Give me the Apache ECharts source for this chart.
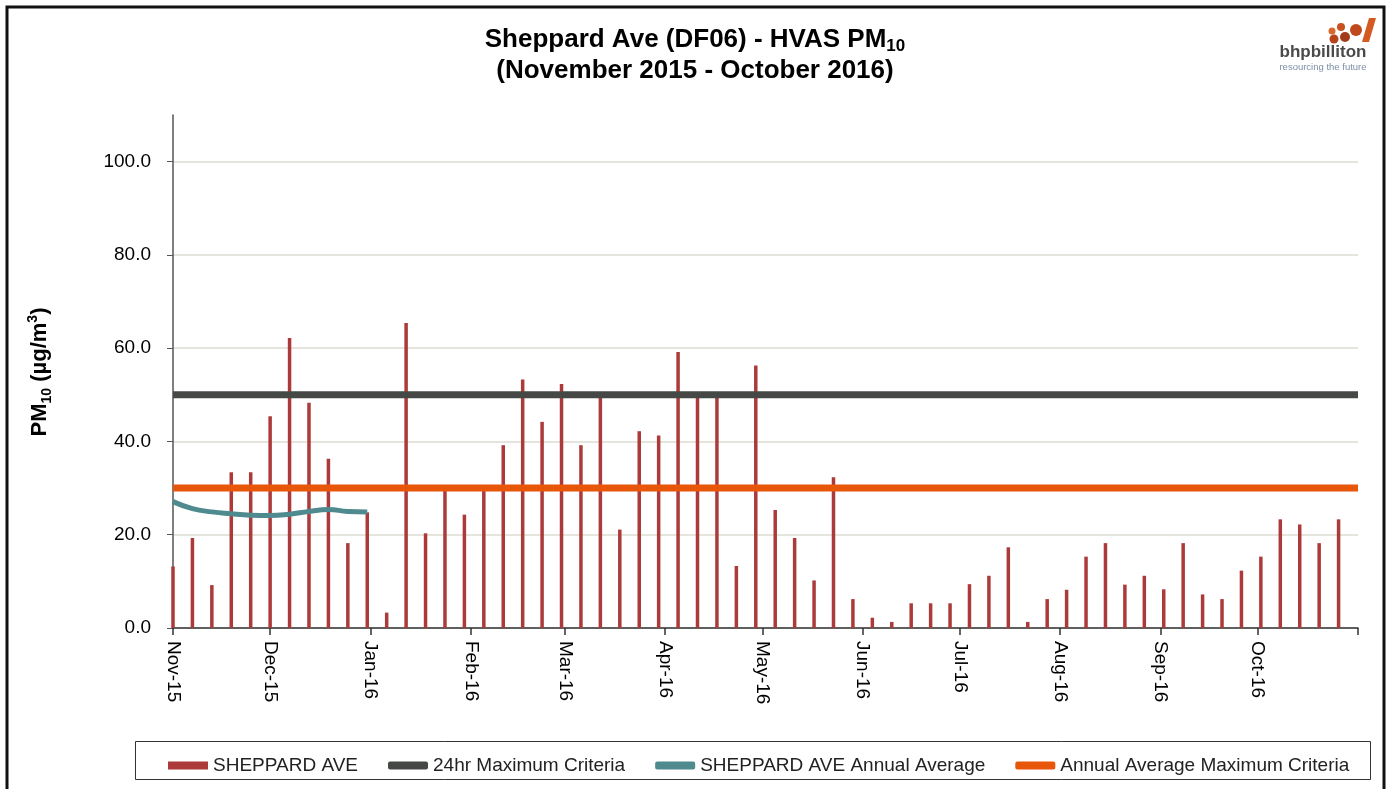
<!DOCTYPE html>
<html>
<head>
<meta charset="utf-8">
<script src="https://cdn.jsdelivr.net/npm/echarts@6/dist/echarts.min.js"></script>
<style>
html,body{margin:0;padding:0;background:#fff;}
#chart{width:1390px;height:789px;}
</style>
</head>
<body>
<div id="chart"></div>
<script>
// ---- data ----
const sampleStart = [2015, 10, 1];   // first HVAS sample: 1 Nov 2015
const sampleStepDays = 6;            // one sample every 6 days
const sheppardAve = [
  13.2, 19.3, 9.2, 33.4, 33.4, 45.4, 62.2, 48.3, 36.3, 18.2, 24.8, 3.3, 65.4, 20.3, 29.5,
  24.3, 29.5, 39.2, 53.3, 44.2, 52.3, 39.2, 49.5, 21.1, 42.2, 41.3, 59.2, 49.5, 49.5, 13.3, 56.3,
  25.3, 19.3, 10.2, 32.3, 6.2, 2.2, 1.3, 5.3, 5.3, 5.3, 9.4, 11.2, 17.3, 1.3, 6.2,
  8.2, 15.3, 18.2, 9.3, 11.2, 8.3, 18.2, 7.2, 6.2, 12.3, 15.3, 23.3, 22.2, 18.2, 23.3
];
const annualAverage = [27.1, 25.6, 24.9, 24.5, 24.2, 24.1, 24.4, 25.0, 25.4, 25.0, 24.9];
const criteria24hr = 50;
const criteriaAnnual = 30;
const monthLabels = ['Nov-15','Dec-15','Jan-16','Feb-16','Mar-16','Apr-16','May-16','Jun-16','Jul-16','Aug-16','Sep-16','Oct-16'];
const yTicks = [0, 20, 40, 60, 80, 100];

// ---- build (x = days since 1 Nov 2015) ----
const DAY = 86400000;
const t0 = Date.UTC(sampleStart[0], sampleStart[1], sampleStart[2]);
const dayOf = (y, m, d) => Math.round((Date.UTC(y, m, d) - t0) / DAY);
const monthStarts = monthLabels.map((_, i) => dayOf(2015, 10 + i, 1));
const xMax = dayOf(2015, 10 + monthLabels.length, 1);
const barData = sheppardAve.map((v, i) => [i * sampleStepDays, v]);
const avgData = annualAverage.map((v, i) => [i * sampleStepDays, v]);

const FONT = '"Liberation Sans", Arial, sans-serif';
const chart = echarts.init(document.getElementById('chart'));
chart.setOption({
  animation: false,
  backgroundColor: '#fff',
  title: {
    left: 'center', top: 19,
    text: '{a|Sheppard Ave (DF06) - HVAS PM}{s|10}\n{a|(November 2015 - October 2016)}',
    textStyle: {
      rich: {
        a: { fontFamily: FONT, fontSize: 26, fontWeight: 'bold', color: '#000', lineHeight: 31 },
        s: { fontFamily: FONT, fontSize: 17, fontWeight: 'bold', color: '#000', lineHeight: 31, verticalAlign: 'bottom', padding: [11, 0, 0, 0] }
      }
    }
  },
  legend: {
    left: 163, top: 751,
    itemWidth: 40, itemHeight: 8, itemGap: 30,
    textStyle: { fontFamily: FONT, fontSize: 19, color: '#222' },
    data: [
      { name: 'SHEPPARD AVE', icon: 'rect' },
      { name: '24hr Maximum Criteria', icon: 'roundRect' },
      { name: 'SHEPPARD AVE Annual Average', icon: 'roundRect' },
      { name: 'Annual Average Maximum Criteria', icon: 'roundRect' }
    ]
  },
  grid: { left: 173, right: 32, top: 115, bottom: 161, containLabel: false },
  xAxis: {
    type: 'value', min: 0, max: xMax,
    axisLine: { onZero: false, lineStyle: { color: '#333', width: 1.5 } },
    axisTick: { show: true, length: 7, lineStyle: { color: '#333', width: 1.5 }, customValues: monthStarts.concat([xMax]) },
    splitLine: { show: false },
    axisLabel: {
      customValues: monthStarts,
      rotate: -90, margin: 13,
      fontFamily: FONT, fontSize: 19, color: '#000',
      formatter: function (v) {
        const idx = monthStarts.indexOf(Math.round(v));
        return idx >= 0 ? monthLabels[idx] : '';
      }
    }
  },
  yAxis: {
    type: 'value', min: 0, max: 110, interval: 20,
    axisLine: { show: true, lineStyle: { color: '#555', width: 1.5 } },
    axisTick: { show: true, length: 6, lineStyle: { color: '#555' }, customValues: yTicks },
    axisLabel: {
      customValues: yTicks,
      margin: 22, fontFamily: FONT, fontSize: 19, color: '#000',
      formatter: v => v.toFixed(1)
    },
    splitLine: { show: true, lineStyle: { color: ['#dcdcd2','#dcdcd2','#dcdcd2','#dcdcd2','#dcdcd2','#dcdcd2','rgba(0,0,0,0)'], width: 1.5 } }
  },
  series: [
    {
      name: 'SHEPPARD AVE', type: 'bar', data: barData, barWidth: 3.5,
      itemStyle: { color: '#ad3a3a' }, z: 2
    },
    {
      name: '24hr Maximum Criteria', type: 'line', data: [[0, criteria24hr], [xMax, criteria24hr]],
      symbol: 'none', lineStyle: { color: '#464846', width: 7 }, itemStyle: { color: '#464846' }, z: 3
    },
    {
      name: 'SHEPPARD AVE Annual Average', type: 'line', data: avgData, smooth: true,
      symbol: 'none', lineStyle: { color: '#4f8a8f', width: 5 }, itemStyle: { color: '#4f8a8f' }, z: 4
    },
    {
      name: 'Annual Average Maximum Criteria', type: 'line', data: [[0, criteriaAnnual], [xMax, criteriaAnnual]],
      symbol: 'none', lineStyle: { color: '#e8560a', width: 7 }, itemStyle: { color: '#e8560a' }, z: 3
    }
  ],
  graphic: [
    { type: 'rect', shape: { x: 7, y: 7, width: 1377, height: 800 }, style: { fill: 'none', stroke: '#111', lineWidth: 3 }, silent: true },
    { type: 'rect', shape: { x: 135.5, y: 741.5, width: 1235, height: 38 }, style: { fill: 'none', stroke: '#333', lineWidth: 1 }, silent: true },
    {
      type: 'text', x: 40, y: 372, rotation: Math.PI / 2,
      style: {
        text: '{a|PM}{s|10}{a| (µg/m}{p|3}{a|)}',
        align: 'center', verticalAlign: 'middle',
        rich: {
          a: { fontFamily: FONT, fontSize: 22, fontWeight: 'bold', fill: '#000', lineHeight: 28 },
          s: { fontFamily: FONT, fontSize: 14, fontWeight: 'bold', fill: '#000', lineHeight: 28, verticalAlign: 'bottom', padding: [11, 0, 0, 0] },
          p: { fontFamily: FONT, fontSize: 14, fontWeight: 'bold', fill: '#000', lineHeight: 28, verticalAlign: 'top', padding: [0, 0, 11, 0] }
        }
      }
    },
    // logo
    { type: 'circle', shape: { cx: 1332, cy: 31, r: 3.5 }, style: { fill: '#d8692c' } },
    { type: 'circle', shape: { cx: 1341, cy: 27, r: 4 }, style: { fill: '#c8521f' } },
    { type: 'circle', shape: { cx: 1334, cy: 39, r: 4.5 }, style: { fill: '#b5441c' } },
    { type: 'circle', shape: { cx: 1345, cy: 37, r: 5 }, style: { fill: '#a13b18' } },
    { type: 'circle', shape: { cx: 1356, cy: 30, r: 6 }, style: { fill: '#c14a1d' } },
    { type: 'polygon', shape: { points: [[1362, 42], [1369, 18], [1376, 18], [1369, 42]] }, style: { fill: '#d45a22' } },
    { type: 'text', x: 1323, y: 52, style: { text: 'bhpbilliton', fontFamily: FONT, fontSize: 17, fontWeight: 'bold', fill: '#4a4a4a', align: 'center', verticalAlign: 'middle' } },
    { type: 'text', x: 1323, y: 67, style: { text: 'resourcing the future', fontFamily: FONT, fontSize: 9.5, fill: '#7d8fa8', align: 'center', verticalAlign: 'middle' } }
  ]
});
</script>
</body>
</html>
